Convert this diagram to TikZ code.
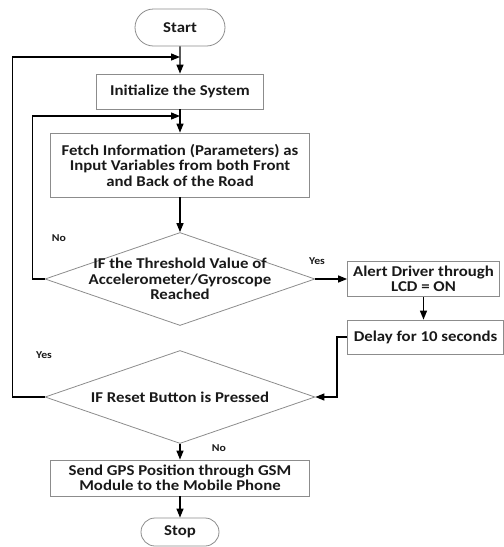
\documentclass[tikz,border=0pt]{standalone}
\usepackage{fontspec}
\setmainfont{Carlito}[FakeStretch=1.12]
\usetikzlibrary{arrows.meta, positioning, shapes.geometric, shapes.misc}

\begin{document}
\begin{tikzpicture}[x=1pt, y=-1pt,
    box/.style={draw=black!45, line width=0.8pt, rectangle, align=center, inner sep=0pt,
        text=black!90, font=\fontsize{15}{15.5}\selectfont\bfseries},
    terminal/.style={box, rounded rectangle},
    decision/.style={draw=black!45, line width=0.8pt, diamond, inner sep=0pt,
        minimum width=270pt, minimum height=93pt},
    qtext/.style={align=center, text=black!90, font=\fontsize{15}{15.5}\selectfont\bfseries},
    answer/.style={text=black!90, font=\fontsize{10.5}{12}\selectfont\bfseries},
    arrow/.style={line width=1.3pt, -{Triangle[length=9pt, width=7pt]}}]

    \useasboundingbox (0,0) rectangle (504,547);

    \node[terminal, minimum width=90pt, minimum height=37pt] (start) at (180,27.5) {Start};
    \node[box, minimum width=167pt, minimum height=35pt] (init) at (180,91.5) {Initialize the System};
    \node[box, minimum width=259pt, minimum height=64pt] (fetch) at (180,165)
        {Fetch Information (Parameters) as\\Input Variables from both Front\\and Back of the Road};
    \node[decision] (q1) at (180,279) {};
    \node[qtext] (q1text) at (q1) {IF the Threshold Value of\\Accelerometer/Gyroscope\\Reached};
    \node[box, minimum width=152pt, minimum height=35pt] (alert) at (423.5,279) {Alert Driver through\\LCD = ON};
    \node[box, minimum width=156pt, minimum height=34pt] (delay) at (425.5,337) {Delay for 10 seconds};
    \node[decision] (q2) at (180,397) {};
    \node[qtext] (q2text) at (q2) {IF Reset Button is Pressed};
    \node[box, minimum width=259pt, minimum height=36pt] (send) at (180,478)
        {Send GPS Position through GSM\\Module to the Mobile Phone};
    \node[terminal, minimum width=78pt, minimum height=28pt] (stop) at (180,532) {Stop};

    \coordinate (j1) at (180,57);
    \coordinate (j2) at (180,116);

    \node[answer] (no1) at (59,238) {No};
    \node[answer] (yes1) at (317,261) {Yes};
    \node[answer] (yes2) at (44,355) {Yes};
    \node[answer] (no2) at (219,448) {No};

    \draw[arrow] (start) -- (init);
    \draw[arrow] (init) -- (fetch);
    \draw[arrow] (fetch) -- (q1);
    \draw[arrow] (q1) -- (alert);
    \draw[arrow] (alert.south) -- (alert.south |- delay.north);
    \draw[arrow] (delay.west) -- ++(-10,0) |- (q2.east);
    \draw[arrow] (q2) -- (send);
    \draw[arrow] (send) -- (stop);
    \draw[arrow] (q1.west) -- ++(-12,0) |- (j2);
    \draw[arrow] (q2.west) -- ++(-32,0) |- (j1);
\end{tikzpicture}
\end{document}
